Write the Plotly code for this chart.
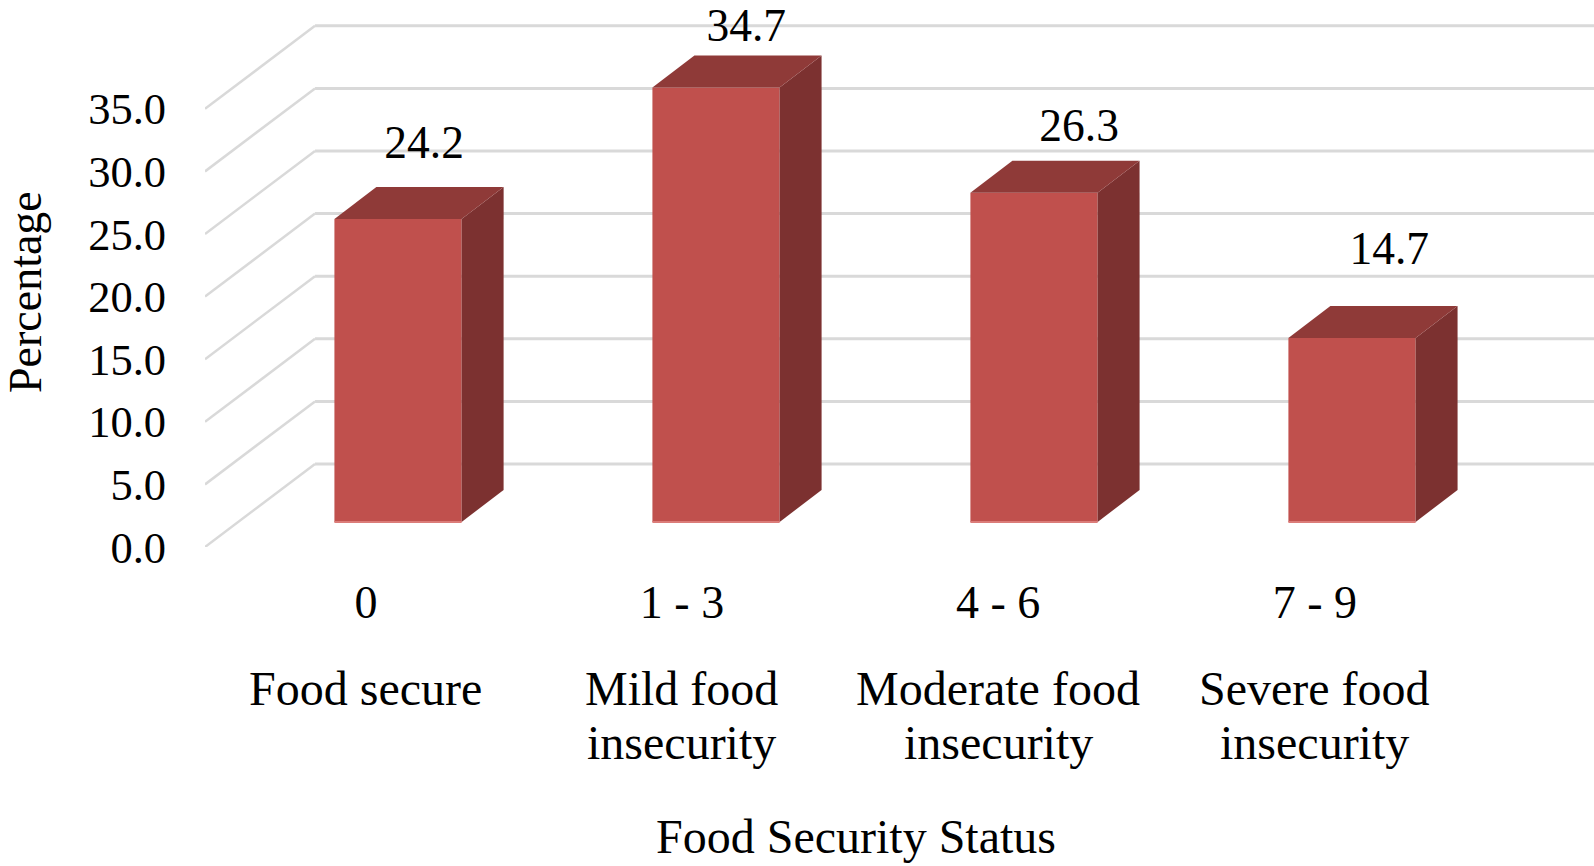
import plotly.graph_objects as go

# Data
codes = ["0", "1 - 3", "4 - 6", "7 - 9"]
status_line1 = ["Food secure", "Mild food", "Moderate food", "Severe food"]
status_line2 = ["", "insecurity", "insecurity", "insecurity"]
values = [24.2, 34.7, 26.3, 14.7]
y_ticks = [0, 5, 10, 15, 20, 25, 30, 35]

# 3-D look, in axis units
WALL_DX, WALL_DY = 0.346, 6.63      # front of the floor to the back wall
BAR_SHIFT, BAR_BASE = 0.107, 2.0    # bar front face relative to the front of the floor
BAR_W = 0.4
DEPTH_DX, DEPTH_DY = 0.132, 2.556   # bar depth
LABEL_DX = [0.082, 0.095, 0.142, 0.117]
LABEL_DY = [5.75, 4.63, 5.03, 6.78]
CAT_NUDGE = [0.006, 0.0, -0.006, -0.01]

FRONT, TOP, SIDE, EDGE = "#C0504D", "#8F3A38", "#7C3130", "#DB7C79"
GRID = "#D9D9D9"
FONT = "Liberation Serif"
FS_TICK, FS_VALUE, FS_CODE, FS_CAT, FS_TITLE_Y = 44.5, 45.5, 46, 48, 46
xs = list(range(len(codes)))
X0, X1 = -0.5, 3.868

fig = go.Figure()

fig.add_trace(go.Bar(
    x=[i + BAR_SHIFT for i in xs], y=values, base=[BAR_BASE] * len(values),
    width=BAR_W, marker=dict(color=FRONT, line=dict(width=0)), showlegend=False,
))

for i, v in zip(xs, values):
    l = i + BAR_SHIFT - BAR_W / 2
    r = i + BAR_SHIFT + BAR_W / 2
    b = BAR_BASE
    t = BAR_BASE + v
    fig.add_trace(go.Scatter(
        x=[r, r + DEPTH_DX, r + DEPTH_DX, r, r],
        y=[b, b + DEPTH_DY, t + DEPTH_DY, t, b],
        mode="lines", fill="toself", fillcolor=SIDE, line=dict(width=0), showlegend=False,
    ))
    fig.add_trace(go.Scatter(
        x=[l, r, r + DEPTH_DX, l + DEPTH_DX, l],
        y=[t, t, t + DEPTH_DY, t + DEPTH_DY, t],
        mode="lines", fill="toself", fillcolor=TOP, line=dict(width=0), showlegend=False,
    ))
    fig.add_trace(go.Scatter(
        x=[l, r], y=[b, b], mode="lines", line=dict(color=EDGE, width=2), showlegend=False,
    ))

fig.add_trace(go.Scatter(
    x=[i + BAR_SHIFT + d for i, d in zip(xs, LABEL_DX)],
    y=[BAR_BASE + v + d for v, d in zip(values, LABEL_DY)],
    mode="text", text=[f"{v:.1f}" for v in values], textposition="middle center",
    textfont=dict(family=FONT, size=FS_VALUE, color="#000000"), cliponaxis=False, showlegend=False,
))

shapes = []
for t in y_ticks:
    shapes.append(dict(type="line", xref="x", yref="y", layer="below",
                       x0=X0, y0=t, x1=X0 + WALL_DX, y1=t + WALL_DY,
                       line=dict(color=GRID, width=2.5)))
    shapes.append(dict(type="line", xref="x", yref="y", layer="below",
                       x0=X0 + WALL_DX, y0=t + WALL_DY, x1=X1, y1=t + WALL_DY,
                       line=dict(color=GRID, width=3)))

annotations = []
for i, a, b, n in zip(xs, status_line1, status_line2, CAT_NUDGE):
    annotations.append(dict(x=i + n, y=0, xref="x", yref="paper", yshift=-141, text=a, showarrow=False,
                            font=dict(family=FONT, size=FS_CAT, color="#000000"),
                            xanchor="center", yanchor="middle"))
    if b:
        annotations.append(dict(x=i + n, y=0, xref="x", yref="paper", yshift=-195, text=b, showarrow=False,
                                font=dict(family=FONT, size=FS_CAT, color="#000000"),
                                xanchor="center", yanchor="middle"))
annotations.append(dict(x=0, y=0, xref="paper", yref="paper", xshift=651, yshift=-289,
                        text="Food Security Status", showarrow=False,
                        font=dict(family=FONT, size=FS_CAT, color="#000000"),
                        xanchor="center", yanchor="middle"))
annotations.append(dict(x=0, y=0, xref="paper", yref="paper", xshift=-180, yshift=255,
                        text="Percentage", showarrow=False, textangle=-90,
                        font=dict(family=FONT, size=FS_TITLE_Y, color="#000000"),
                        xanchor="center", yanchor="middle"))

fig.update_layout(
    width=1594, height=866,
    margin=dict(l=205, r=0, t=0, b=319, pad=0, autoexpand=False),
    paper_bgcolor="#FFFFFF", plot_bgcolor="rgba(0,0,0,0)",
    showlegend=False, hovermode=False, shapes=shapes, annotations=annotations,
    xaxis=dict(range=[X0, X1], tickmode="array", tickvals=[i + n for i, n in zip(xs, CAT_NUDGE)],
               ticktext=codes,
               showgrid=False, zeroline=False, showline=False,
               ticks="outside", ticklen=15, tickcolor="rgba(0,0,0,0)",
               tickfont=dict(family=FONT, size=FS_CODE, color="#000000")),
    yaxis=dict(range=[0, 43.69], tickmode="array", tickvals=y_ticks,
               ticktext=[f"{t:.1f}" for t in y_ticks],
               showgrid=False, zeroline=False, showline=False,
               ticks="outside", ticklen=29, tickcolor="rgba(0,0,0,0)",
               tickfont=dict(family=FONT, size=FS_TICK, color="#000000")),
)

fig.write_html("out.html", config=dict(displayModeBar=False),
               post_script="document.body.style.margin='0';document.body.style.overflow='hidden';")
